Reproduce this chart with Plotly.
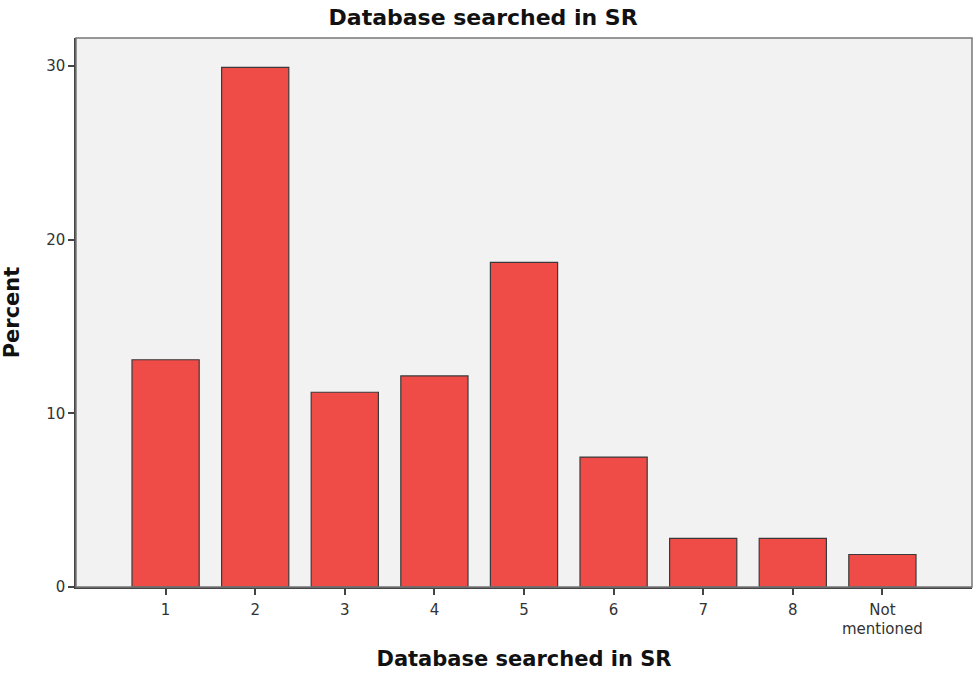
import plotly.graph_objects as go

categories = ["1", "2", "3", "4", "5", "6", "7", "8", "Not<br>mentioned"]
positions = [1, 2, 3, 4, 5, 6, 7, 8, 9]
percent = [13.08, 29.91, 11.21, 12.15, 18.69, 7.48, 2.80, 2.80, 1.87]
y_ticks = [0, 10, 20, 30]

font_family = "DejaVu Sans"

fig = go.Figure(go.Bar(
    x=positions,
    y=percent,
    width=0.75,
    marker=dict(color="#EF4B47", line=dict(color="#3a3a3a", width=1.2)),
))

fig.update_layout(
    width=974, height=673,
    margin=dict(l=76, r=2, t=38, b=86),
    paper_bgcolor="white",
    plot_bgcolor="#F2F2F2",
    showlegend=False,
    title=dict(text="<b>Database searched in SR</b>", x=0.496, xanchor="center",
               y=0.975, yanchor="middle",
               font=dict(family=font_family, size=22, color="#111")),
    font=dict(family=font_family, color="#333"),
)

fig.update_xaxes(
    range=[0, 10],
    tickvals=positions,
    ticktext=categories,
    ticks="outside", ticklen=6, tickwidth=1.5, tickcolor="#444",
    tickfont=dict(size=15, color="#333"),
    ticklabelstandoff=2,
    showgrid=False, zeroline=False,
    showline=True, linecolor="#444", linewidth=1.5, mirror=False,
    title=dict(text="<b>Database searched in SR</b>", standoff=14,
               font=dict(size=21, color="#111")),
)

fig.update_yaxes(
    range=[0, 31.6],
    tickvals=y_ticks,
    ticks="outside", ticklen=6, tickwidth=1.5, tickcolor="#444",
    tickfont=dict(size=15, color="#333"),
    showgrid=False, zeroline=False,
    showline=True, linecolor="#444", linewidth=1.5,
    title=dict(text="<b>Percent</b>", standoff=22,
               font=dict(size=21, color="#111")),
)

# thin frame on top and right of the plot area
fig.add_shape(type="rect", xref="paper", yref="paper", x0=0, y0=0, x1=1, y1=1,
              line=dict(color="#777", width=1.5), layer="above")

# drop the default page margin so the 974x673 figure fits the window exactly
fig.write_html("out.html", config={"displayModeBar": False},
               post_script="document.body.style.margin='0';document.body.style.overflow='hidden';")
